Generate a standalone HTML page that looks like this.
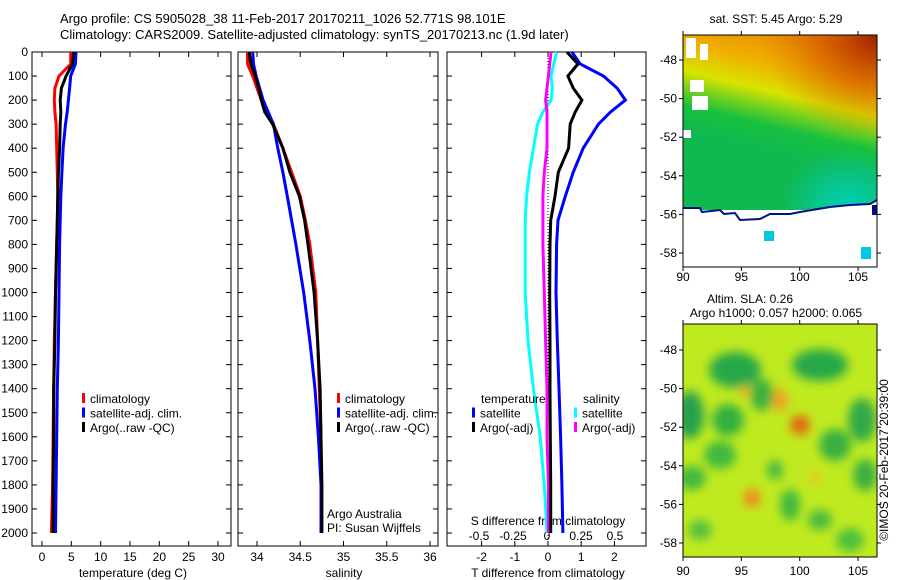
<!DOCTYPE html>
<html><head><meta charset="utf-8"><style>
html,body{margin:0;padding:0;background:#fff;}
svg{display:block;font-family:"Liberation Sans",sans-serif;font-size:12px;}
</style></head><body>
<svg id="fig" width="900" height="580" viewBox="0 0 900 580" xmlns="http://www.w3.org/2000/svg">
<defs>
  <linearGradient id="sstg" x1="0.6" y1="0" x2="0.4" y2="0.75">
    <stop offset="0" stop-color="#e88a00"/>
    <stop offset="0.25" stop-color="#f0b000"/>
    <stop offset="0.45" stop-color="#d8e400"/>
    <stop offset="0.58" stop-color="#70d020"/>
    <stop offset="0.7" stop-color="#18c040"/>
    <stop offset="0.88" stop-color="#10b850"/>
    <stop offset="1" stop-color="#10b850"/>
  </linearGradient>
  <radialGradient id="sstr" cx="1" cy="0" r="0.6">
    <stop offset="0" stop-color="#a02000" stop-opacity="1"/>
    <stop offset="0.5" stop-color="#d05000" stop-opacity="0.6"/>
    <stop offset="1" stop-color="#e08000" stop-opacity="0"/>
  </radialGradient>
  <radialGradient id="sstt" cx="0.85" cy="1" r="0.35">
    <stop offset="0" stop-color="#00d0c0" stop-opacity="1"/>
    <stop offset="1" stop-color="#00d0c0" stop-opacity="0"/>
  </radialGradient>
  <filter id="blur" x="-20%" y="-20%" width="140%" height="140%"><feGaussianBlur stdDeviation="5"/></filter>
  <clipPath id="m1c"><rect x="683" y="35" width="194" height="232"/></clipPath>
  <clipPath id="m2c"><rect x="683" y="324" width="194" height="233"/></clipPath>
</defs>
<g>
  <text x="60" y="23" font-size="13">Argo profile: CS 5905028_38 11-Feb-2017 20170211_1026 52.771S 98.101E</text>
  <text x="60" y="39" font-size="13">Climatology: CARS2009. Satellite-adjusted climatology: synTS_20170213.nc (1.9d later)</text>
</g>
<g id="p1"></g>
<g id="p2"></g>
<g id="p3"></g>

<g>
  <g clip-path="url(#m1c)">
    <rect x="683" y="35" width="194" height="175" fill="url(#sstg)"/>
    <rect x="683" y="35" width="194" height="175" fill="url(#sstr)"/>
    <rect x="683" y="35" width="194" height="175" fill="url(#sstt)"/>
    <path d="M683,208 L700,208 L702,212 L720,210 L724,214 L735,213 L740,220 L760,219 L770,214 L790,214 L800,212 L830,207 L850,205 L870,204 L877,200 L877,267 L683,267 Z" fill="#fff"/>
    <path d="M683,208 L700,208 L702,212 L720,210 L724,214 L735,213 L740,220 L760,219 L770,214 L790,214 L800,212 L830,207 L850,205 L870,204 L877,200" fill="none" stroke="#001080" stroke-width="2"/>
    <rect x="686" y="38" width="10" height="20" fill="#fff"/>
    <rect x="700" y="44" width="8" height="16" fill="#fff"/>
    <rect x="690" y="80" width="14" height="12" fill="#fff"/>
    <rect x="692" y="96" width="16" height="14" fill="#fff"/>
    <rect x="683" y="130" width="8" height="8" fill="#fff"/>
    <rect x="764" y="231" width="10" height="10" fill="#00c8e0"/>
    <rect x="861" y="247" width="10" height="12" fill="#00c8e0"/>
    <rect x="872" y="205" width="5" height="10" fill="#001080"/>
  </g>
  <rect x="683" y="35" width="194" height="232" fill="none" stroke="#000"/>
  <text x="776" y="23" text-anchor="middle">sat. SST: 5.45 Argo: 5.29</text>
</g>

<g>
  <g clip-path="url(#m2c)">
    <rect x="683" y="324" width="194" height="233" fill="#c0ea20"/>
    <g filter="url(#blur)">
      <ellipse cx="735" cy="370" rx="26" ry="18" fill="#28a848"/>
      <ellipse cx="690" cy="415" rx="14" ry="24" fill="#28a050"/>
      <ellipse cx="728" cy="420" rx="16" ry="16" fill="#30b040"/>
      <ellipse cx="762" cy="395" rx="12" ry="16" fill="#38b040"/>
      <ellipse cx="820" cy="365" rx="28" ry="16" fill="#28a848"/>
      <ellipse cx="862" cy="420" rx="14" ry="22" fill="#30a848"/>
      <ellipse cx="835" cy="445" rx="16" ry="16" fill="#38b040"/>
      <ellipse cx="720" cy="455" rx="16" ry="14" fill="#40b840"/>
      <ellipse cx="692" cy="478" rx="14" ry="12" fill="#40b840"/>
      <ellipse cx="865" cy="475" rx="12" ry="16" fill="#38b040"/>
      <ellipse cx="790" cy="505" rx="10" ry="16" fill="#40b840"/>
      <ellipse cx="820" cy="520" rx="12" ry="10" fill="#48b840"/>
      <ellipse cx="775" cy="470" rx="8" ry="10" fill="#48b840"/>
      <ellipse cx="700" cy="530" rx="12" ry="10" fill="#58c040"/>
      <ellipse cx="850" cy="540" rx="14" ry="12" fill="#50c040"/>
      <ellipse cx="780" cy="400" rx="8" ry="11" fill="#f0a020"/>
      <ellipse cx="800" cy="425" rx="10" ry="10" fill="#e06810"/>
      <ellipse cx="752" cy="498" rx="9" ry="9" fill="#f08820"/>
      <ellipse cx="745" cy="392" rx="5" ry="6" fill="#f0b020"/>
      <ellipse cx="815" cy="478" rx="5" ry="7" fill="#f0c020"/>
    </g>
  </g>
  <rect x="683" y="324" width="194" height="233" fill="none" stroke="#000"/>
  <text x="750" y="303" text-anchor="middle">Altim. SLA: 0.26</text>
  <text x="776" y="317" text-anchor="middle">Argo h1000: 0.057 h2000: 0.065</text>
  <text transform="translate(888,460) rotate(-90)" text-anchor="middle">©IMOS 20-Feb-2017 20:39:00</text>
</g>
<g id="maxes"></g>

<script>
// ---- data ----
const depths = [0,50,100,150,200,250,300,400,500,600,700,800,1000,1200,1400,1600,1800,2000];
const tempClim = [4.9,4.9,2.9,2.2,2.1,2.2,2.4,2.5,2.6,2.7,2.6,2.5,2.3,2.1,2.0,1.9,1.8,1.6];
const tempSat  = [5.8,5.7,4.9,4.7,4.5,4.3,4.0,3.6,3.4,3.2,3.1,3.0,2.9,2.8,2.6,2.5,2.4,2.3];
const tempArgo = [5.4,5.2,4.1,3.3,3.1,3.2,3.1,3.0,2.8,2.7,2.6,2.5,2.3,2.2,2.0,2.0,1.9,1.9];
const salClim = [33.89,33.89,33.95,34.0,34.05,34.11,34.19,34.30,34.40,34.50,34.56,34.61,34.68,34.70,34.72,34.74,34.74,34.74];
const salSat  = [33.95,33.96,33.99,34.03,34.07,34.13,34.19,34.24,34.30,34.35,34.40,34.45,34.54,34.61,34.67,34.71,34.74,34.74];
const salArgo = [33.91,33.93,33.98,34.02,34.05,34.09,34.18,34.30,34.38,34.49,34.55,34.59,34.66,34.70,34.73,34.74,34.75,34.75];
const tDiffArgo = [0.57,0.9,0.6,0.76,1.02,0.82,0.67,0.62,0.31,0.21,0.08,0.06,0.05,0.06,0.06,0.07,0.08,0.08];
const tDiffSat  = [0.72,0.97,1.67,2.08,2.33,1.88,1.52,1.06,0.76,0.52,0.30,0.26,0.24,0.28,0.33,0.38,0.42,0.45];
const sDiffArgo = [0.03,0.02,0.01,0.0,-0.01,0.0,0.0,0.0,-0.02,-0.03,-0.03,-0.03,-0.02,-0.01,0.0,0.0,0.01,0.01];
const sDiffSat  = [0.07,0.05,0.03,0.04,0.03,-0.03,-0.07,-0.10,-0.13,-0.15,-0.16,-0.16,-0.16,-0.14,-0.10,-0.05,-0.02,0.0];
const depthTicks = [0,100,200,300,400,500,600,700,800,900,1000,1100,1200,1300,1400,1500,1600,1700,1800,1900,2000];
const tempTicks = [0,5,10,15,20,25,30];
const salTicks = [34,34.5,35,35.5,36];
const tDiffTicks = [-2,-1,0,1,2];
const sDiffTicks = [-0.5,-0.25,0,0.25,0.5];
const sDiffTickLabels = ["-0.5","-0.25","0","0.25","0.5"];
const latTicks = [-48,-50,-52,-54,-56,-58];
const lonTicks = [90,95,100,105];

// ---- axes ----
const NS='http://www.w3.org/2000/svg';
const TOP=52, BOT=546;
const yD = d => TOP + d*0.2405;
const xT = t => 42 + t*5.867;
const xS = s => 257 + (s-34)*86.5;
const xTD = v => 548 + v*33.2;
const xSD = v => 547 + v*136;
const xLon = l => 683 + (l-90)*11.67;
const yLat1 = l => 60 + (-48-l)*19.3;
const yLat2 = l => 350 + (-48-l)*19.3;

function mk(tag, attrs, parent, txt){
  const e=document.createElementNS(NS,tag);
  for(const k in attrs) e.setAttribute(k,attrs[k]);
  if(txt!==undefined) e.textContent=txt;
  parent.appendChild(e); return e;
}
function line(vals, xf, color, parent, name){
  const pts = depths.map((d,i)=>xf(vals[i]).toFixed(1)+','+yD(d).toFixed(1)).join(' ');
  const p = mk('polyline',{points:pts,fill:'none',stroke:color,'stroke-width':3,'stroke-linejoin':'miter'},parent);
  
  
}
function frame(g, x0, x1, name){
  const r = mk('rect',{x:x0,y:TOP,width:x1-x0,height:BOT-TOP,fill:'none',stroke:'#000'},g);
  
  
  depthTicks.forEach(d=>{
    mk('line',{x1:x0,x2:x0+5,y1:yD(d),y2:yD(d),stroke:'#000'},g);
    mk('line',{x1:x1-5,x2:x1,y1:yD(d),y2:yD(d),stroke:'#000'},g);
  });
}
function xticks(g, ticks, xf, labels, ly){
  ticks.forEach((t,i)=>{
    const x=xf(t);
    mk('line',{x1:x,x2:x,y1:TOP,y2:TOP+5,stroke:'#000'},g);
    mk('line',{x1:x,x2:x,y1:BOT-5,y2:BOT,stroke:'#000'},g);
    const tl = mk('text',{x:x,y:ly,'text-anchor':'middle'},g,labels?labels[i]:String(t));
    
    
  });
}
function legend(g, x, y0, items){
  items.forEach((it,i)=>{
    const y=y0+i*14.5;
    mk('rect',{x:x,y:y-10,width:3,height:10,fill:it[1]},g);
    const t=mk('text',{x:x+8,y:y},g,it[0]);
    
    
  });
}

// Panel 1
const p1=document.getElementById('p1');
frame(p1,32,231,'temperature-axes');
depthTicks.forEach(d=>{
  const t=mk('text',{x:28,y:yD(d)+4,'text-anchor':'end'},p1,String(d));
  
  
});
xticks(p1,tempTicks,xT,null,561);
mk('text',{x:133,y:577,'text-anchor':'middle'},p1,'temperature (deg C)');
line(tempClim,xT,'#ff0000',p1,'temp-climatology-line');
line(tempSat,xT,'#0000ff',p1,'temp-satellite-line');
line(tempArgo,xT,'#000000',p1,'temp-argo-line');
legend(p1,82,403,[['climatology','#ff0000'],['satellite-adj. clim.','#0000ff'],['Argo(..raw -QC)','#000']]);

// Panel 2
const p2=document.getElementById('p2');
frame(p2,238,438,'salinity-axes');
xticks(p2,salTicks,xS,null,561);
mk('text',{x:344,y:577,'text-anchor':'middle'},p2,'salinity');
line(salClim,xS,'#ff0000',p2,'sal-climatology-line');
line(salSat,xS,'#0000ff',p2,'sal-satellite-line');
line(salArgo,xS,'#000000',p2,'sal-argo-line');
legend(p2,337,403,[['climatology','#ff0000'],['satellite-adj. clim.','#0000ff'],['Argo(..raw -QC)','#000']]);
mk('text',{x:327,y:518},p2,'Argo Australia');
mk('text',{x:327,y:532},p2,'PI: Susan Wijffels');

// Panel 3
const p3=document.getElementById('p3');
frame(p3,447,646,'difference-axes');
xticks(p3,tDiffTicks,xTD,null,561);
mk('line',{x1:548,x2:548,y1:TOP,y2:BOT,stroke:'#000','stroke-dasharray':'1,2'},p3);
mk('text',{x:548,y:577,'text-anchor':'middle'},p3,'T difference from climatology');
sDiffTicks.forEach((t,i)=>{
  const tl=mk('text',{x:xSD(t),y:540,'text-anchor':'middle'},p3,sDiffTickLabels[i]);
  
  
});
mk('text',{x:548,y:525,'text-anchor':'middle'},p3,'S difference from climatology');
line(sDiffSat,xSD,'#00ffff',p3,'sdiff-satellite-line');
line(sDiffArgo,xSD,'#ff00ff',p3,'sdiff-argo-line');
line(tDiffSat,xTD,'#0000ff',p3,'tdiff-satellite-line');
line(tDiffArgo,xTD,'#000000',p3,'tdiff-argo-line');
mk('text',{x:481,y:403},p3,'temperature');
mk('text',{x:583,y:403},p3,'salinity');
legend(p3,472,417.5,[['satellite','#0000ff'],['Argo(-adj)','#000']]);
legend(p3,574,417.5,[['satellite','#00ffff'],['Argo(-adj)','#ff00ff']]);

// Map axes
const ma=document.getElementById('maxes');
[[yLat1,35,267,281],[yLat2,324,557,575]].forEach(([yf,top,bot,ly])=>{
  latTicks.forEach(l=>{
    const y=yf(l);
    mk('line',{x1:683,x2:679,y1:y,y2:y,stroke:'#000'},ma);
    mk('line',{x1:877,x2:881,y1:y,y2:y,stroke:'#000'},ma);
    const t=mk('text',{x:677,y:y+4,'text-anchor':'end'},ma,String(l));
    
    
  });
  lonTicks.forEach(l=>{
    const x=xLon(l);
    mk('line',{x1:x,x2:x,y1:bot,y2:bot+4,stroke:'#000'},ma);
    mk('line',{x1:x,x2:x,y1:top,y2:top-4,stroke:'#000'},ma);
    const t=mk('text',{x:x,y:ly,'text-anchor':'middle'},ma,String(l));
    
    
  });
});
</script>
</svg>
</body></html>
